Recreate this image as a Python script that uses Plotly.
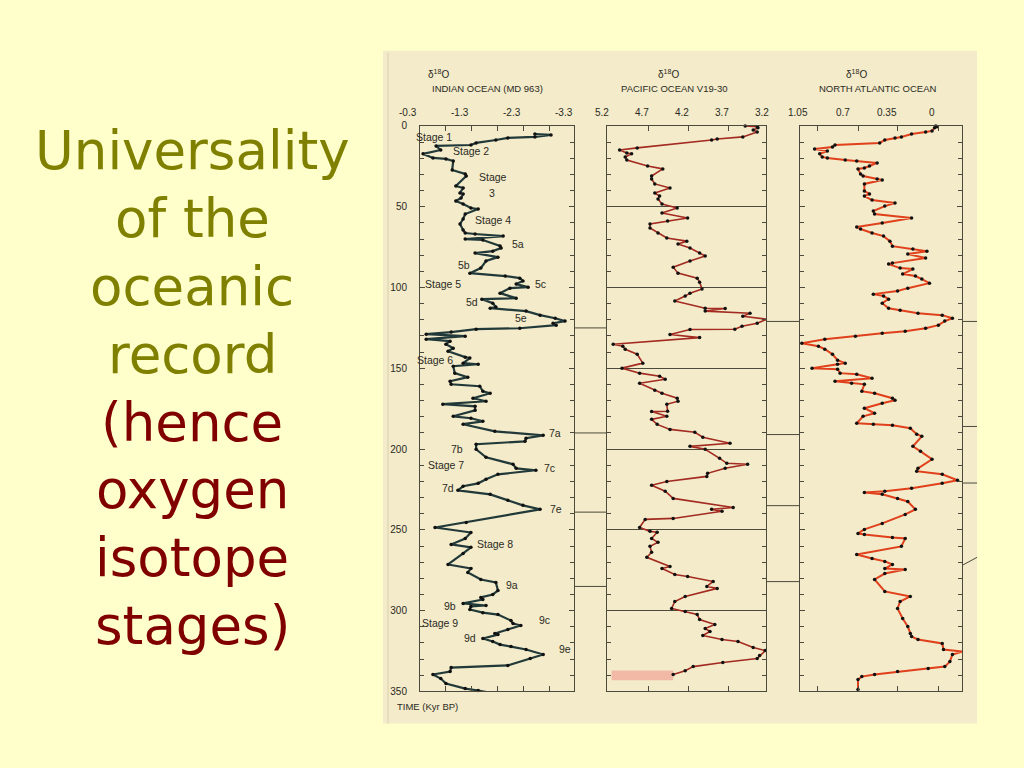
import plotly.graph_objects as go

# ---------------- data ----------------
indian_t = [5.0, 5.6, 6.8, 7.4, 8.7, 10.5, 11.8, 12.4, 14.9, 17.3, 19.8, 20.4, 21.7, 27.3, 29.7, 31.0,
            37.2, 38.4, 41.5, 42.1, 44.6, 46.5, 48.3, 50.8, 51.4, 54.5, 57.6, 60.7, 64.4, 66.3, 66.9,
            68.2, 70.0, 70.6, 74.3, 75.6, 77.5, 78.7, 81.2, 83.6, 88.0, 91.1, 92.9, 94.2, 96.0, 97.9,
            99.8, 100.4, 103.5, 106.6, 107.2, 109.7, 112.1, 112.8, 114.6, 117.1, 119.0, 120.8, 122.1,
            123.3, 125.2, 125.8, 127.6, 128.9, 130.1, 132.0, 133.2, 135.1, 137.6, 139.4, 143.1, 143.7,
            146.8, 147.5, 148.7, 153.0, 155.5, 158.0, 159.9, 161.1, 164.2, 165.4, 168.5, 170.4, 172.2,
            173.5, 176.0, 179.7, 180.9, 182.8, 184.6, 189.0, 191.5, 193.3, 195.2, 197.0, 200.1, 205.1,
            209.4, 211.9, 213.1, 215.6, 218.7, 221.2, 223.0, 225.5, 228.0, 231.7, 234.8, 237.3, 245.4,
            248.5, 251.6, 255.3, 259.0, 260.8, 264.6, 271.4, 273.9, 276.3, 280.7, 282.5, 287.5, 290.0,
            291.8, 293.1, 295.5, 296.8, 297.4, 299.3, 301.2, 302.4, 306.1, 308.0, 309.2, 311.7, 314.1,
            314.8, 317.2, 319.1, 321.0, 322.2, 324.0, 327.1, 329.6, 333.9, 335.2, 337.7, 339.5, 342.0,
            345.1, 348.2, 349.4, 350.7]
indian_d18o = [-2.74, -3.05, -2.74, -2.22, -1.99, -1.61, -1.51, -0.84, -0.93, -0.59, -0.78, -1.03, -1.17,
               -1.15, -1.40, -1.42, -1.22, -1.36, -1.30, -1.36, -1.32, -1.22, -1.36, -1.51, -1.65, -1.40,
               -1.36, -1.30, -1.36, -1.40, -1.59, -2.13, -1.40, -1.74, -2.07, -2.09, -1.93, -1.59, -2.03,
               -1.80, -1.70, -1.49, -2.17, -2.45, -2.51, -2.38, -2.61, -2.26, -2.07, -2.38, -1.72, -1.93,
               -1.99, -1.88, -2.57, -2.84, -3.13, -3.32, -3.09, -3.15, -2.45, -1.61, -1.13, -0.65, -1.40,
               -0.65, -1.11, -1.03, -1.17, -1.07, -1.40, -1.49, -1.36, -1.65, -1.17, -1.20, -1.45, -1.11,
               -1.13, -1.68, -1.74, -1.88, -1.55, -1.80, -0.97, -1.59, -1.59, -1.17, -1.51, -1.74, -1.36,
               -1.97, -2.90, -2.57, -2.55, -1.61, -1.61, -1.80, -2.32, -2.38, -2.76, -2.03, -1.80, -1.65,
               -1.36, -1.26, -1.88, -2.22, -2.51, -2.84, -1.42, -0.82, -1.51, -1.40, -1.13, -1.51, -1.36,
               -1.07, -1.51, -1.45, -1.70, -1.99, -2.03, -1.93, -1.70, -1.74, -1.36, -1.80, -1.51, -1.49,
               -1.74, -2.03, -2.28, -2.32, -2.47, -2.22, -1.97, -2.03, -1.74, -1.93, -2.07, -2.28, -2.57,
               -2.90, -2.65, -2.22, -1.13, -1.11, -0.78, -0.93, -1.03, -1.40, -1.65, -1.86]

pacific_t = [0.0, 0.5, 1.2, 2.5, 3.7, 6.8, 8.1, 8.7, 13.6, 14.9, 16.7, 17.3, 19.2, 21.1, 24.8, 26.6, 31.0,
             32.8, 35.9, 38.4, 41.5, 43.4, 45.2, 48.3, 50.8, 53.9, 57.0, 58.9, 60.7, 63.2, 66.3, 69.4,
             71.3, 73.1, 75.6, 78.7, 80.5, 83.6, 87.4, 91.1, 94.2, 96.7, 101.0, 103.5, 105.3, 108.4,
             112.8, 113.0, 114.6, 115.9, 117.8, 119.6, 122.1, 124.0, 125.8, 126.0, 129.1, 131.0, 135.1,
             136.3, 138.2, 141.3, 146.8, 149.9, 153.0, 154.9, 156.8, 159.2, 163.6, 165.4, 168.5, 170.4,
             172.3, 176.6, 176.8, 179.7, 181.6, 184.7, 187.8, 189.6, 192.7, 196.4, 198.3, 200.1, 205.7,
             208.8, 209.4, 211.9, 215.0, 216.9, 220.0, 222.4, 226.1, 230.5, 236.1, 237.3, 238.5, 242.9,
             243.5, 248.5, 250.9, 251.5, 255.3, 257.7, 260.2, 263.9, 267.0, 272.6, 273.9, 277.6, 278.8,
             281.9, 285.0, 286.2, 291.2, 294.3, 298.6, 300.5, 302.4, 305.5, 308.6, 311.0, 312.9, 315.4,
             317.8, 319.1, 322.8, 324.7, 327.8, 329.6, 332.1, 334.6, 337.1, 339.5]
pacific_d18o = [3.41, 3.26, 3.25, 3.31, 3.26, 3.44, 3.76, 3.83, 4.76, 4.98, 4.89, 4.83, 4.91, 4.89, 4.63,
                4.44, 4.58, 4.58, 4.54, 4.35, 4.54, 4.48, 4.50, 4.45, 4.26, 4.45, 4.13, 4.38, 4.60, 4.60,
                4.50, 4.39, 4.14, 4.25, 4.10, 3.98, 3.91, 4.10, 4.31, 4.25, 4.01, 3.98, 3.95, 4.10, 4.16,
                4.29, 3.91, 3.66, 3.91, 3.35, 3.44, 3.14, 3.26, 3.45, 3.54, 4.10, 4.35, 3.98, 5.06, 4.94,
                4.91, 4.76, 4.69, 4.95, 4.73, 4.48, 4.41, 4.73, 4.54, 4.45, 4.26, 4.25, 4.39, 4.38, 4.58,
                4.39, 4.58, 4.51, 4.35, 4.04, 3.94, 3.60, 4.10, 3.91, 3.73, 3.64, 3.38, 3.66, 3.88, 3.89,
                4.39, 4.58, 4.41, 4.31, 3.56, 3.83, 3.70, 4.31, 4.66, 4.73, 4.60, 4.51, 4.58, 4.50, 4.60,
                4.58, 4.64, 4.35, 4.45, 4.29, 4.13, 3.81, 3.89, 3.76, 4.16, 4.29, 4.33, 4.16, 4.01, 3.98,
                3.79, 3.91, 3.85, 3.94, 3.70, 3.50, 3.31, 3.16, 3.23, 3.26, 3.69, 4.06, 4.16, 4.31]

atlantic_t = [0.0, 0.5, 1.2, 3.1, 3.7, 5.0, 6.8, 7.4, 8.7, 10.5, 11.8, 13.0, 14.3, 15.5, 17.3, 19.2, 19.8,
              21.1, 21.7, 22.9, 24.8, 26.0, 26.6, 29.7, 31.0, 32.8, 33.5, 35.9, 40.3, 42.1, 43.4, 45.9,
              47.7, 49.6, 52.7, 54.5, 57.0, 60.1, 62.6, 63.8, 66.3, 68.2, 71.3, 74.4, 76.2, 77.5, 79.3,
              81.8, 84.9, 85.5, 88.0, 88.6, 91.7, 92.9, 94.8, 97.3, 100.4, 102.2, 104.1, 105.3, 107.2,
              109.7, 112.8, 114.0, 115.9, 117.1, 119.0, 120.8, 123.3, 125.2, 127.0, 128.3, 130.1, 132.0,
              134.5, 136.3, 138.2, 141.3, 145.0, 146.8, 147.5, 149.9, 150.6, 153.0, 153.7, 156.1, 158.0,
              159.2, 159.9, 164.2, 165.4, 168.5, 169.8, 171.6, 174.7, 177.8, 179.7, 184.0, 184.6, 185.3,
              187.1, 190.8, 192.1, 198.3, 201.4, 206.3, 211.9, 213.7, 215.6, 219.3, 221.2, 224.3, 226.1,
              226.8, 228.0, 230.5, 232.4, 237.3, 240.4, 246.0, 249.7, 252.2, 252.8, 254.7, 255.3, 260.2,
              265.2, 267.7, 269.5, 271.4, 273.9, 274.5, 277.0, 280.7, 288.1, 291.2, 294.3, 298.6, 304.8,
              309.8, 314.1, 316.0, 317.8, 320.3, 324.0, 325.3, 327.1, 331.5, 334.6, 335.8, 337.7, 339.5,
              340.8, 342.6, 348.8]
atlantic_d18o = [-0.03, -0.04, -0.02, 0.00, 0.05, 0.16, 0.24, 0.29, 0.37, 0.41, 0.76, 0.78, 0.92, 0.82,
                 0.88, 0.86, 0.82, 0.68, 0.59, 0.43, 0.49, 0.53, 0.58, 0.56, 0.54, 0.43, 0.39, 0.53, 0.53,
                 0.49, 0.53, 0.47, 0.29, 0.37, 0.46, 0.45, 0.16, 0.39, 0.59, 0.56, 0.47, 0.38, 0.33, 0.31,
                 0.15, 0.04, 0.19, 0.05, 0.31, 0.34, 0.25, 0.15, 0.23, 0.13, 0.08, 0.02, 0.19, 0.27, 0.46,
                 0.38, 0.34, 0.39, 0.34, 0.25, 0.11, -0.08, -0.16, -0.10, -0.05, 0.05, 0.21, 0.39, 0.60,
                 0.84, 1.02, 0.89, 0.84, 0.78, 0.74, 0.68, 0.74, 0.94, 0.74, 0.72, 0.59, 0.47, 0.76, 0.63,
                 0.53, 0.55, 0.45, 0.31, 0.29, 0.39, 0.53, 0.45, 0.54, 0.59, 0.46, 0.31, 0.17, 0.12, 0.08,
                 0.15, 0.09, 0.00, 0.11, 0.12, -0.08, -0.20, -0.08, 0.16, 0.37, 0.53, 0.39, 0.27, 0.19,
                 0.13, 0.21, 0.39, 0.53, 0.58, 0.53, 0.31, 0.21, 0.24, 0.59, 0.47, 0.37, 0.31, 0.37, 0.21,
                 0.37, 0.45, 0.37, 0.17, 0.25, 0.27, 0.23, 0.19, 0.17, 0.16, 0.11, -0.08, -0.09, -0.24,
                 -0.16, -0.14, -0.10, 0.03, 0.27, 0.45, 0.55, 0.58, 0.58]

# axis tick labels (delta 18O) and tick-mark positions
indian_xtick_vals = [-0.3, -1.3, -2.3, -3.3]
indian_xtick_text = ["-0.3", "-1.3", "-2.3", "-3.3"]
indian_xtick_marks = [-1.03, -1.53, -2.03, -2.53, -3.03]
pacific_xtick_vals = [5.2, 4.7, 4.2, 3.7, 3.2]
pacific_xtick_text = ["5.2", "4.7", "4.2", "3.7", "3.2"]
pacific_xtick_marks = [4.62, 4.12, 3.62]
atlantic_xtick_vals = [1.05, 0.7, 0.35, 0.0]
atlantic_xtick_text = ["1.05", "0.7", "0.35", "0"]
atlantic_xtick_marks = [0.90, 0.58, 0.27, -0.05]
time_tick_vals = [0, 50, 100, 150, 200, 250, 300, 350]
time_tick_text = ["0", "50", "100", "150", "200", "250", "300", "350"]

panel_titles = ["INDIAN OCEAN (MD 963)", "PACIFIC OCEAN V19-30", "NORTH ATLANTIC OCEAN"]

stage_labels = ["Stage 1", "Stage 2", "Stage", "3", "Stage 4", "5a", "5b", "Stage 5", "5c", "5d", "5e",
                "Stage 6", "7a", "7b", "Stage 7", "7c", "7d", "7e", "Stage 8", "9a", "9b", "9c",
                "Stage 9", "9d", "9e"]
stage_d18o = [-0.80, -1.51, -1.93, -1.92, -1.93, -2.42, -1.38, -0.97, -2.84, -1.53, -2.47, -0.82, -3.13,
              -1.24, -1.03, -3.03, -1.07, -3.15, -1.97, -2.30, -1.11, -2.93, -0.92, -1.49, -3.32]
stage_t = [6.8, 15.5, 31.6, 41.5, 58.2, 73.1, 86.1, 97.9, 97.9, 109.0, 119.0, 145.0, 190.2, 200.1,
           210.0, 211.9, 224.3, 237.3, 259.0, 283.8, 297.4, 305.5, 307.9, 316.6, 324.0]

# correlation lines between the panels (kyr)
links_indian_pacific = [125, 190, 239, 285]
links_pacific_atlantic = [121, 191, 235, 282]
links_atlantic_right = [121, 186, 221]

# shaded band at the base of the Pacific core (d18O from, to; kyr from, to)
pacific_band = (5.08, 4.31, 337, 343)

title_lines = ["Universality", "of the", "oceanic", "record", "(hence", "oxygen", "isotope", "stages)"]
title_colors = ["#808000"] * 4 + ["#800000"] * 4

# ---------------- layout helpers ----------------
W, H = 1024, 768
# the photographed page comes out vertically squeezed (~0.986, ~4px offset); pre-compensate
VS, VO = 0.986, 4.2
def P(x):
    return x / W
def Q(y):
    return 1 - ((y - VO) / VS) / H

AX = "#4b4a3c"
TXT = "#2b2a24"
FONT = "Liberation Sans"

panels = [
    dict(xa="x", ya="y", dom=(420, 574), rng=[-0.531, -3.492], marks=indian_xtick_marks,
         vals=indian_xtick_vals, texts=indian_xtick_text, dx=438, tx=487, name=panel_titles[0]),
    dict(xa="x2", ya="y2", dom=(607, 766), rng=[5.1375, 3.15], marks=pacific_xtick_marks,
         vals=pacific_xtick_vals, texts=pacific_xtick_text, dx=668, tx=674, name=panel_titles[1]),
    dict(xa="x3", ya="y3", dom=(800, 962), rng=[1.0345, -0.235], marks=atlantic_xtick_marks,
         vals=atlantic_xtick_vals, texts=atlantic_xtick_text, dx=856, tx=877, name=panel_titles[2]),
]

def to_paper(v, p):
    r0, r1 = p["rng"]
    d0, d1 = P(p["dom"][0]), P(p["dom"][1])
    return d0 + (v - r0) / (r1 - r0) * (d1 - d0)

fig = go.Figure()

fig.add_trace(go.Scatter(x=indian_d18o, y=indian_t, xaxis="x", yaxis="y", mode="lines+markers",
                         line=dict(color="#22393a", width=2.2), marker=dict(color="#111111", size=3.5),
                         cliponaxis=False, hoverinfo="skip"))
fig.add_trace(go.Scatter(x=pacific_d18o, y=pacific_t, xaxis="x2", yaxis="y2", mode="lines+markers",
                         line=dict(color="#a32b22", width=1.6), marker=dict(color="#111111", size=3.5),
                         cliponaxis=False, hoverinfo="skip"))
fig.add_trace(go.Scatter(x=atlantic_d18o, y=atlantic_t, xaxis="x3", yaxis="y3", mode="lines+markers",
                         line=dict(color="#e0401c", width=2), marker=dict(color="#111111", size=3.5),
                         cliponaxis=False, hoverinfo="skip"))

ydom = [Q(690), Q(125)]
def xax(p):
    return dict(domain=[P(p["dom"][0]), P(p["dom"][1])], range=p["rng"], tickmode="array",
                tickvals=p["marks"], ticks="inside", ticklen=5, tickcolor=AX, showline=True,
                linecolor=AX, linewidth=1, mirror="ticks", showgrid=False, zeroline=False,
                showticklabels=False, anchor=p["ya"])
def yax(anchor, labels=False, grid=False):
    return dict(domain=ydom, range=[350, 0], tickmode="array", tickvals=time_tick_vals,
                ticktext=time_tick_text, ticks="inside", ticklen=5, tickcolor=AX,
                minor=dict(tickmode="linear", tick0=0, dtick=10, ticks="inside", ticklen=4, tickcolor=AX),
                showline=True, linecolor=AX, linewidth=1, mirror="ticks", showgrid=grid,
                gridcolor=AX, gridwidth=1, zeroline=False, showticklabels=labels,
                tickfont=dict(family=FONT, size=10, color=TXT), ticklabelstandoff=10, anchor=anchor)

fig.update_layout(
    width=W, height=H, margin=dict(l=0, r=0, t=0, b=0, pad=0), autosize=False,
    paper_bgcolor="#FFFFCC", plot_bgcolor="rgba(0,0,0,0)", showlegend=False,
    xaxis=xax(panels[0]), xaxis2=xax(panels[1]), xaxis3=xax(panels[2]),
    yaxis=yax("x", labels=True), yaxis2=yax("x2", grid=True), yaxis3=yax("x3"),
)

shapes = [
    dict(type="rect", xref="paper", yref="paper", x0=P(383), x1=P(977), y0=Q(722), y1=Q(50),
         fillcolor="#F3EBC9", line=dict(width=0), layer="below"),
    dict(type="line", xref="paper", yref="paper", x0=P(388), x1=P(388), y0=Q(722), y1=Q(52),
         line=dict(color="#d9d0ad", width=1), layer="below"),
    dict(type="rect", xref="x2", yref="y2", x0=pacific_band[0], x1=pacific_band[1],
         y0=pacific_band[2], y1=pacific_band[3], fillcolor="#f2b9a6", line=dict(width=0), layer="below"),
]
for t in links_indian_pacific:
    shapes.append(dict(type="line", xref="paper", yref="y", x0=P(574), x1=P(607), y0=t, y1=t,
                       line=dict(color=AX, width=1)))
for t in links_pacific_atlantic:
    shapes.append(dict(type="line", xref="paper", yref="y", x0=P(766), x1=P(800), y0=t, y1=t,
                       line=dict(color=AX, width=1)))
for t in links_atlantic_right:
    shapes.append(dict(type="line", xref="paper", yref="y", x0=P(962), x1=P(977), y0=t, y1=t,
                       line=dict(color=AX, width=1)))
shapes.append(dict(type="line", xref="paper", yref="y", x0=P(962), x1=P(977), y0=272, y1=267,
                   line=dict(color=AX, width=1)))
fig.update_layout(shapes=shapes)

ann = []
# title on the left
for i, (txt, col) in enumerate(zip(title_lines, title_colors)):
    ann.append(dict(text=txt, xref="paper", yref="paper", x=P(192), y=Q(150 + 67.7 * i),
                    xanchor="center", yanchor="middle", showarrow=False,
                    font=dict(family="DejaVu Sans", size=53, color=col)))
# panel headers and x tick labels
for p in panels:
    ann.append(dict(text="δ<sup>18</sup>O", xref="paper", yref="paper", x=P(p["dx"]), y=Q(73),
                    xanchor="center", yanchor="middle", showarrow=False,
                    font=dict(family=FONT, size=10, color=TXT)))
    ann.append(dict(text=p["name"], xref="paper", yref="paper", x=P(p["tx"]), y=Q(88),
                    xanchor="center", yanchor="middle", showarrow=False,
                    font=dict(family=FONT, size=9.5, color=TXT)))
    for v, s in zip(p["vals"], p["texts"]):
        ann.append(dict(text=s, xref="paper", yref="paper", x=to_paper(v, p), y=Q(112),
                        xanchor="center", yanchor="middle", showarrow=False,
                        font=dict(family=FONT, size=10, color=TXT)))
# stage labels
for s, v, t in zip(stage_labels, stage_d18o, stage_t):
    ann.append(dict(text=s, xref="x", yref="y", x=v, y=t, xanchor="center", yanchor="middle",
                    showarrow=False, font=dict(family=FONT, size=10.5, color=TXT)))
ann.append(dict(text="TIME (Kyr BP)", xref="paper", yref="paper", x=P(395), y=Q(705),
                xanchor="left", yanchor="middle", showarrow=False,
                font=dict(family=FONT, size=9.5, color=TXT)))
fig.update_layout(annotations=ann)

post = ("var gd=document.getElementById('{plot_id}');"
        "gd.style.position='fixed';gd.style.top='0px';gd.style.left='0px';"
        "document.documentElement.style.overflow='hidden';"
        "document.documentElement.style.background='#FFFFCC';"
        "document.body.style.margin='0';document.body.style.padding='0';"
        "document.body.style.height='768px';document.body.style.overflow='hidden';"
        "document.body.style.background='#FFFFCC';")
fig.write_html("out.html", config={"displayModeBar": False}, post_script=post)
